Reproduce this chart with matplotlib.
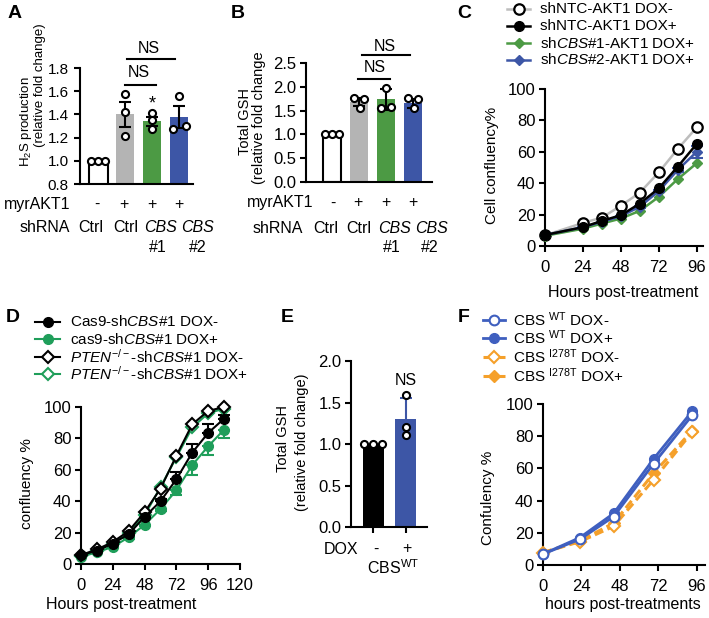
"""Six-panel figure (A-F): H2S / GSH bars and confluency growth curves."""

import matplotlib

matplotlib.use("Agg")
import matplotlib.pyplot as plt
from matplotlib.lines import Line2D
import numpy as np

plt.rcParams["font.family"] = ["Liberation Sans", "DejaVu Sans"]
plt.rcParams["mathtext.fontset"] = "custom"
plt.rcParams["mathtext.rm"] = "Liberation Sans"
plt.rcParams["mathtext.it"] = "Liberation Sans:italic"
plt.rcParams["mathtext.bf"] = "Liberation Sans:bold"
plt.rcParams["axes.linewidth"] = 1.5
plt.rcParams["xtick.major.width"] = 1.5
plt.rcParams["ytick.major.width"] = 1.5
plt.rcParams["xtick.major.size"] = 4
plt.rcParams["ytick.major.size"] = 4
plt.rcParams["xtick.labelsize"] = 12
plt.rcParams["ytick.labelsize"] = 12

FS = 11.5   # horizontal labels
YFS = 10.5  # rotated y labels
LFS = 11    # legend text

# ---- data -------------------------------------------------------------
# A: H2S production
A_means = [1.0, 1.40, 1.34, 1.375]
A_err = [0.0, 0.105, 0.04, 0.095]
A_points = [[1.0, 1.0, 1.0], [1.58, 1.42, 1.21], [1.41, 1.35, 1.27], [1.56, 1.27, 1.30]]
# B: total GSH
B_means = [1.0, 1.68, 1.74, 1.65]
B_err = [0.0, 0.08, 0.22, 0.1]
B_points = [[1.0, 1.0, 1.0], [1.76, 1.74, 1.55], [1.98, 1.55, 1.58], [1.76, 1.74, 1.55]]
AB_akt = ["-", "+", "+", "+"]
AB_shrna = ["Ctrl", "Ctrl", "CBS", "CBS"]
AB_num = ["", "", "#1", "#2"]

# C: cell confluency (%)
C_hours = [0, 24, 36, 48, 60, 72, 84, 96]
C_ntc_minus = [6.8, 14.7, 18.1, 25.6, 34.0, 46.9, 61.8, 75.5]
C_ntc_plus = [7.0, 12.0, 16.0, 19.6, 27.0, 36.7, 50.5, 65.0]
C_cbs1_plus = [6.5, 11.0, 14.3, 17.5, 22.4, 31.3, 42.6, 52.7]
C_cbs2_plus = [7.0, 12.0, 15.4, 19.0, 25.0, 35.0, 48.4, 60.0]
C_cbs2_err = [0, 0, 0, 0, 0.5, 0.8, 1.2, 4.0]
C_labels = ["shNTC-AKT1 DOX-", "shNTC-AKT1 DOX+",
            "sh$\\it{CBS}$#1-AKT1 DOX+", "sh$\\it{CBS}$#2-AKT1 DOX+"]

# D: confluency (%)
D_hours = [0, 12, 24, 36, 48, 60, 72, 84, 96, 108]
D_cas_minus = [5.7, 8.5, 13.0, 19.0, 30.0, 40.0, 54.0, 71.0, 83.5, 92.6]
D_cas_minus_err = [0.5, 0.5, 0.8, 1.0, 1.0, 1.5, 4.5, 5.5, 5.5, 2.0]
D_cas_plus = [4.7, 7.4, 11.0, 17.0, 25.0, 35.0, 47.0, 63.0, 75.0, 85.6]
D_cas_plus_err = [0.5, 0.5, 1.0, 1.0, 1.0, 1.5, 3.0, 6.0, 5.5, 5.5]
D_pten_minus = [5.7, 9.3, 14.0, 21.0, 33.0, 48.0, 69.0, 89.0, 97.5, 100.0]
D_pten_plus = [5.2, 8.5, 13.0, 20.0, 31.0, 49.0, 68.0, 87.0, 96.0, 99.0]
D_labels = ["Cas9-sh$\\it{CBS}$#1 DOX-", "cas9-sh$\\it{CBS}$#1 DOX+",
            "$\\it{PTEN}^{-/-}$-sh$\\it{CBS}$#1 DOX-",
            "$\\it{PTEN}^{-/-}$-sh$\\it{CBS}$#1 DOX+"]

# E: total GSH
E_means = [1.0, 1.30]
E_err = [0.0, 0.26]
E_points = [[1.0, 1.0, 1.0], [1.59, 1.21, 1.11]]
E_dox = ["-", "+"]

# F: confluency (%)
F_hours = [0, 23, 44, 69, 93]
F_wt_minus = [6.8, 16.0, 30.0, 63.0, 93.0]
F_wt_plus = [6.8, 17.0, 32.0, 66.0, 95.5]
F_mut_minus = [7.7, 14.5, 24.0, 53.0, 82.6]
F_mut_plus = [7.7, 15.0, 26.0, 57.0, 83.5]
F_labels = ["CBS $^{\\mathrm{WT}}$ DOX-", "CBS $^{\\mathrm{WT}}$ DOX+",
            "CBS $^{\\mathrm{I278T}}$ DOX-", "CBS $^{\\mathrm{I278T}}$ DOX+"]

# ---- colours ----------------------------------------------------------
GRAY = "#b4b4b4"
GREEN = "#4c9a44"
BLUE = "#3d56a6"
DGREEN = "#1f9e5a"
FBLUE = "#3f5fbf"
ORANGE = "#f5a02a"

W, H = 709, 618
fig = plt.figure(figsize=(W / 100, H / 100), dpi=100)


def box(l, r, t, b):
    return [l / W, 1 - b / H, (r - l) / W, (b - t) / H]


def ftext(x, y, s, **kw):
    kw.setdefault("ha", "center")
    kw.setdefault("va", "center")
    kw.setdefault("fontsize", FS)
    fig.text(x / W, 1 - y / H, s, **kw)


def ylab(x, y, s, size=YFS):
    ftext(x, y, s, rotation=90, fontsize=size)


def prism(ax):
    ax.spines["top"].set_visible(False)
    ax.spines["right"].set_visible(False)
    ax.tick_params(direction="out", pad=3)


def bar_panel(ax, means, errs, pts, colors, err_colors, width, offsets):
    for i in range(len(means)):
        fill = colors[i]
        ax.bar(i, means[i], width=width, color=fill,
               edgecolor="black" if fill == "white" else fill,
               linewidth=1.5 if fill == "white" else 0, zorder=2)
        if errs[i] > 0:
            ax.errorbar(i, means[i], yerr=errs[i], color=err_colors[i],
                        capsize=4.5, elinewidth=1.5, capthick=1.5, zorder=3)
        ax.scatter(i + np.asarray(offsets[i]), pts[i], s=26, facecolor="white",
                   edgecolor="black", linewidth=1.5, zorder=4, clip_on=False)


def legend_rows(handles, labels, x0, x1, tx, ys):
    for h, lab, y in zip(handles, labels, ys):
        yf = 1 - y / H
        fig.add_artist(Line2D([x0 / W, x1 / W], [yf, yf], color=h.get_color(),
                              ls=h.get_linestyle(), lw=h.get_linewidth()))
        fig.add_artist(Line2D([(x0 + x1) / 2 / W], [yf], ls="none",
                              marker=h.get_marker(), ms=h.get_markersize(),
                              mfc=h.get_markerfacecolor(),
                              mec=h.get_markeredgecolor(),
                              mew=h.get_markeredgewidth()))
        fig.text(tx / W, yf, lab, ha="left", va="center", fontsize=LFS)


# ---- A ----------------------------------------------------------------
axA = fig.add_axes(box(80, 193, 68, 184))
bar_panel(axA, A_means, A_err, A_points,
          ["white", GRAY, GREEN, BLUE], ["black"] * 4, 0.7,
          [[-0.26, 0, 0.26], [0, 0, 0], [0, 0, 0], [0, -0.22, 0.25]])
axA.set_ylim(0.8, 1.8)
axA.set_xlim(-0.67, 3.52)
axA.set_yticks([0.8, 1.0, 1.2, 1.4, 1.6, 1.8])
axA.set_yticklabels(["0.8", "1.0", "1.2", "1.4", "1.6", "1.8"])
axA.set_xticks([])
prism(axA)
axA.tick_params(axis="y", labelsize=11, pad=4)
axA.plot([1.0, 2.15], [1.653, 1.653], color="black", lw=1.5, clip_on=False)
axA.plot([1.07, 2.85], [1.878, 1.878], color="black", lw=1.5, clip_on=False)
axA.text(1.52, 1.76, "NS", ha="center", va="center", fontsize=FS)
axA.text(1.9, 1.965, "NS", ha="center", va="center", fontsize=FS)
axA.text(2.0, 1.49, "*", ha="center", va="center", fontsize=13)

# ---- B ----------------------------------------------------------------
axB = fig.add_axes(box(306, 432, 63, 182))
bar_panel(axB, B_means, B_err, B_points,
          ["white", GRAY, GREEN, BLUE], ["black"] * 4, 0.68,
          [[-0.26, 0, 0.26], [-0.2, 0.2, 0.02], [0, -0.18, 0.2], [-0.2, 0.2, 0.02]])
axB.set_ylim(0, 2.5)
axB.set_xlim(-0.96, 3.7)
axB.set_yticks([0, 0.5, 1.0, 1.5, 2.0, 2.5])
axB.set_yticklabels(["0.0", "0.5", "1.0", "1.5", "2.0", "2.5"])
axB.set_xticks([])
prism(axB)
axB.plot([0.97, 2.15], [2.164, 2.164], color="black", lw=1.5, clip_on=False)
axB.plot([1.1, 2.89], [2.668, 2.668], color="black", lw=1.5, clip_on=False)
axB.text(1.59, 2.395, "NS", ha="center", va="center", fontsize=FS)
axB.text(1.96, 2.857, "NS", ha="center", va="center", fontsize=FS)

# row labels under A and B (pixel positions as laid out in the figure)
rows = {
    "A": dict(sign_x=[97, 124, 152, 179], sh_x=[91, 126, 160, 197],
              num_x=[0, 0, 158, 198], y=(204, 227, 247), lab_r=(70, 70)),
    "B": dict(sign_x=[333, 358, 386, 413], sh_x=[326, 359, 394, 431],
              num_x=[0, 0, 392, 430], y=(203, 228, 248), lab_r=(313, 303)),
}
for r in rows.values():
    y1, y2, y3 = r["y"]
    ftext(r["lab_r"][0], y1, "myrAKT1", ha="right")
    ftext(r["lab_r"][1], y2, "shRNA", ha="right")
    for i in range(4):
        ftext(r["sign_x"][i], y1, AB_akt[i])
        ftext(r["sh_x"][i], y2, AB_shrna[i],
              fontstyle="italic" if AB_shrna[i] == "CBS" else "normal")
        if AB_num[i]:
            ftext(r["num_x"][i], y3, AB_num[i])

ylab(26, 122, "H$_2$S production", 9.5)
ylab(39.5, 85, "(relative fold change)", 9.5)
ylab(245, 121, "Total GSH")
ylab(259, 118, "(relative fold change")

# ---- C ----------------------------------------------------------------
axC = fig.add_axes(box(545, 703, 89, 246))
hC_ntc_m, = axC.plot(C_hours, C_ntc_minus, color="#bdbdbd", lw=1.8, marker="o",
                     ms=7.5, mfc="white", mec="black", mew=1.6, zorder=3,
                     clip_on=False)
hC_cbs1, = axC.plot(C_hours, C_cbs1_plus, color=GREEN, lw=1.8, marker="D",
                    ms=5.5, mfc=GREEN, mec=GREEN, zorder=3, clip_on=False)
axC.errorbar(C_hours, C_cbs2_plus, yerr=C_cbs2_err, fmt="none",
             ecolor=BLUE, elinewidth=1.5, capsize=4, capthick=1.5, zorder=3)
hC_cbs2, = axC.plot(C_hours, C_cbs2_plus, color=BLUE, lw=1.8, marker="D",
                    ms=5.5, mfc=BLUE, mec=BLUE, zorder=3, clip_on=False)
hC_ntc_p, = axC.plot(C_hours, C_ntc_plus, color="black", lw=1.8, marker="o",
                     ms=7, mfc="black", mec="black", zorder=4, clip_on=False)
axC.set_xlim(0, 100)
axC.set_ylim(0, 100)
axC.set_xticks([0, 24, 48, 72, 96])
axC.set_yticks([0, 20, 40, 60, 80, 100])
prism(axC)
axC.tick_params(axis="x", pad=6)
legend_rows([hC_ntc_m, hC_ntc_p, hC_cbs1, hC_cbs2], C_labels,
            507, 530, 540, [9, 26, 43, 60])
ylab(492, 165, "Cell confluency%", 11)
ftext(623, 293, "Hours post-treatment")

# ---- D ----------------------------------------------------------------
axD = fig.add_axes(box(81, 240, 407, 564))
axD.errorbar(D_hours, D_cas_plus, yerr=[D_cas_plus_err, np.zeros(len(D_hours))],
             fmt="none", ecolor=DGREEN, elinewidth=1.5, capsize=4,
             capthick=1.5, zorder=2)
axD.errorbar(D_hours, D_cas_minus, yerr=[np.zeros(len(D_hours)), D_cas_minus_err],
             fmt="none", ecolor="black", elinewidth=1.5, capsize=4,
             capthick=1.5, zorder=2)
hD_pten_p, = axD.plot(D_hours, D_pten_plus, color=DGREEN, lw=1.5, marker="D",
                      ms=6.5, mfc="white", mec=DGREEN, mew=1.5, zorder=3,
                      clip_on=False)
hD_cas_p, = axD.plot(D_hours, D_cas_plus, color=DGREEN, lw=1.5, marker="o",
                     ms=7, mfc=DGREEN, mec=DGREEN, zorder=4, clip_on=False)
hD_pten_m, = axD.plot(D_hours, D_pten_minus, color="black", lw=1.5, marker="D",
                      ms=6.5, mfc="white", mec="black", mew=1.5, zorder=5,
                      clip_on=False)
hD_cas_m, = axD.plot(D_hours, D_cas_minus, color="black", lw=1.5, marker="o",
                     ms=7, mfc="black", mec="black", zorder=6, clip_on=False)
axD.set_xlim(0, 120)
axD.set_ylim(0, 100)
axD.set_xticks([0, 24, 48, 72, 96, 120])
axD.set_yticks([0, 20, 40, 60, 80, 100])
prism(axD)
axD.tick_params(axis="x", pad=6)
legend_rows([hD_cas_m, hD_cas_p, hD_pten_m, hD_pten_p], D_labels,
            35, 60, 70, [322, 339, 357, 374])
ylab(27, 484, "confluency %", 11)
ftext(121, 605, "Hours post-treatment")

# ---- E ----------------------------------------------------------------
axE = fig.add_axes(box(351, 427, 361, 527))
bar_panel(axE, E_means, E_err, E_points, ["black", BLUE], ["black", BLUE], 0.64,
          [[-0.26, 0, 0.26], [0, 0, 0]])
axE.set_ylim(0, 2.0)
axE.set_xlim(-0.67, 1.64)
axE.set_yticks([0, 0.5, 1.0, 1.5, 2.0])
axE.set_yticklabels(["0.0", "0.5", "1.0", "1.5", "2.0"])
axE.set_xticks([0, 1])
axE.set_xticklabels([])
prism(axE)
axE.text(1.0, 1.76, "NS", ha="center", va="center", fontsize=FS)
for lx, s in zip([376, 407], E_dox):
    ftext(lx, 549, s)
ftext(358, 549, "DOX", ha="right")
ftext(393, 568, "CBS$^{\\mathrm{WT}}$")
ylab(283, 439, "Total GSH")
ylab(302, 442, "(relative fold change)")

# ---- F ----------------------------------------------------------------
axF = fig.add_axes(box(543, 705, 404, 565))
hF_mut_p, = axF.plot(F_hours, F_mut_plus, color=ORANGE, lw=2.2, ls=(0, (3, 1.5)),
                     marker="D", ms=6.5, mfc=ORANGE, mec=ORANGE, zorder=3,
                     clip_on=False)
hF_mut_m, = axF.plot(F_hours, F_mut_minus, color=ORANGE, lw=2.2, ls=(0, (3, 1.5)),
                     marker="D", ms=6.5, mfc="white", mec=ORANGE, mew=1.5,
                     zorder=3, clip_on=False)
hF_wt_p, = axF.plot(F_hours, F_wt_plus, color=FBLUE, lw=2.0, marker="o", ms=7,
                    mfc=FBLUE, mec=FBLUE, zorder=4, clip_on=False)
hF_wt_m, = axF.plot(F_hours, F_wt_minus, color=FBLUE, lw=2.0, marker="o", ms=7,
                    mfc="white", mec=FBLUE, mew=1.5, zorder=5, clip_on=False)
axF.set_xlim(0, 101)
axF.set_ylim(0, 100)
axF.set_xticks([0, 24, 48, 72, 96])
axF.set_yticks([0, 20, 40, 60, 80, 100])
prism(axF)
axF.tick_params(axis="x", pad=6)
legend_rows([hF_wt_m, hF_wt_p, hF_mut_m, hF_mut_p], F_labels,
            483, 505, 513, [320, 338, 357, 376])
ylab(488, 498, "Confulency %", 11)
ftext(623, 605, "hours post-treatments")

# ---- panel letters ----------------------------------------------------
for lx, ly, s in ((15, 13, "A"), (238, 13, "B"), (464, 13, "C"),
                  (13, 318, "D"), (287, 318, "E"), (464, 318, "F")):
    ftext(lx, ly, s, fontsize=14, fontweight="bold")

fig.savefig("out.png", dpi=100, facecolor="white")
